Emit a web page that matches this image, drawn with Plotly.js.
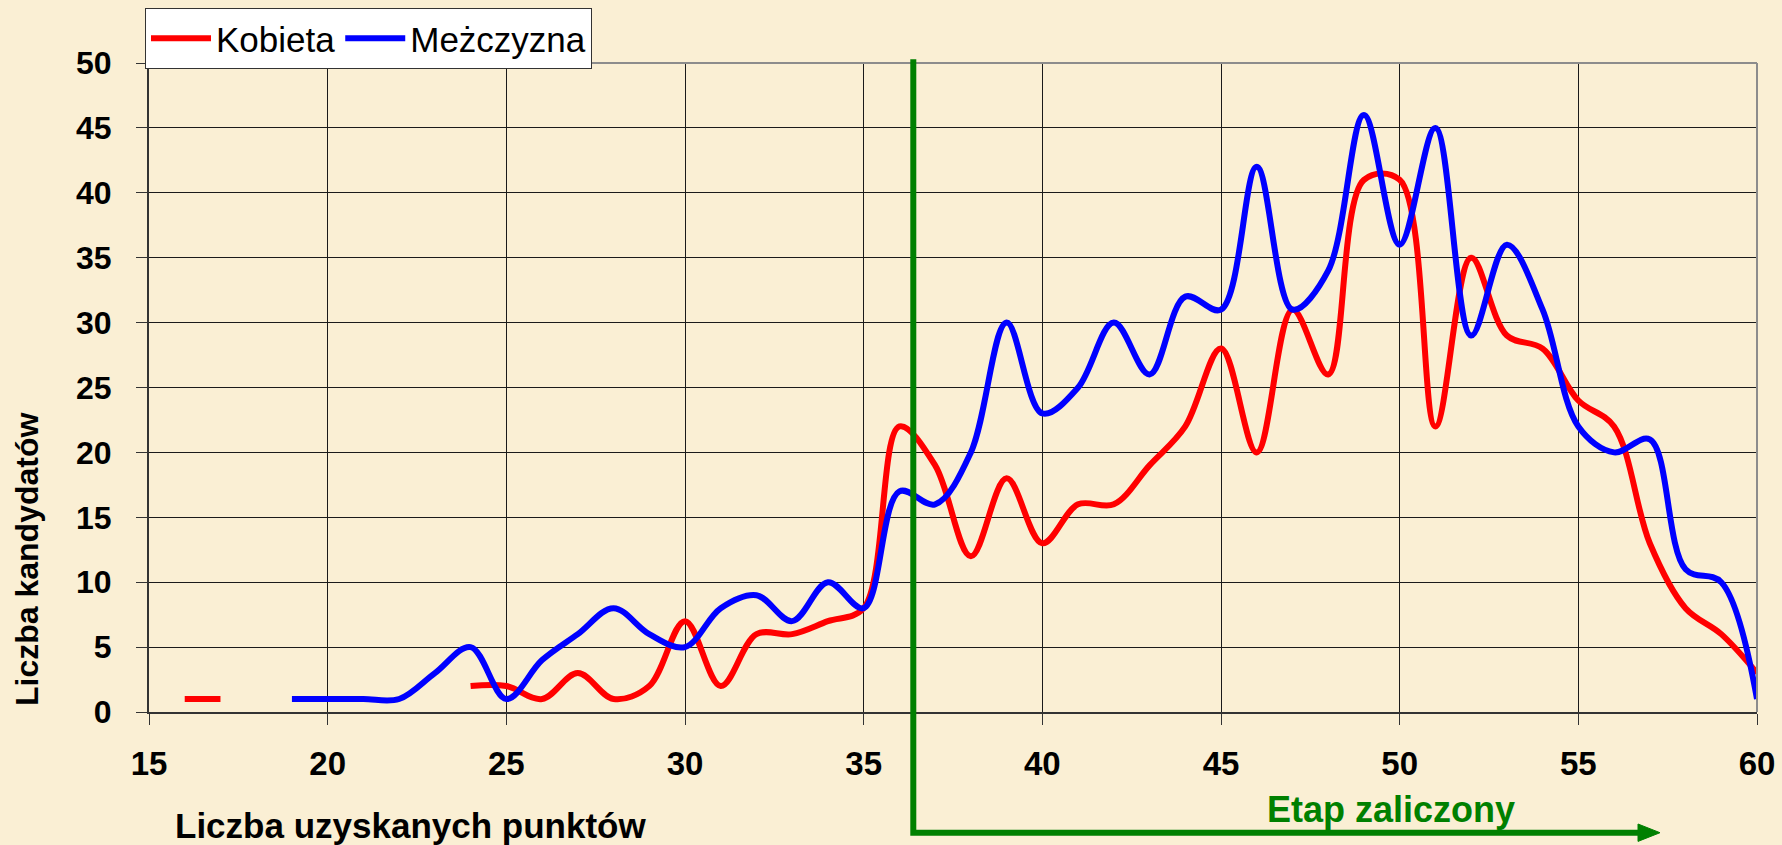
<!DOCTYPE html>
<html>
<head>
<meta charset="utf-8">
<script src="https://cdn.plot.ly/plotly-3.0.1.min.js"></script>
<style>
  html, body { margin: 0; padding: 0; background: #FAEFD4; }
  #chart { width: 1782px; height: 845px; }
</style>
</head>
<body>
<div id="chart"></div>
<script>
// ---- data ----
const punkty = [15,16,17,18,19,20,21,22,23,24,25,26,27,28,29,30,31,32,33,34,35,36,37,
                38,39,40,41,42,43,44,45,46,47,48,49,50,51,52,53,54,55,56,57,58,59,60];
const kobieta = [null,1,1,null,null,null,null,null,null,2,2,1,3,1,2,7,2,6,6,7,8,22,19,
                 12,18,13,16,16,19,22,28,20,31,26,41,41,22,35,29,28,24,22,13,8,6,3];
const mezczyzna = [null,null,null,null,1,1,1,1,3,5,1,4,6,8,6,5,8,9,7,10,8,17,16,
                   20,30,23,25,30,26,32,31,42,31,34,46,36,45,29,36,31,22,20,21,11,10,1];
const seriesNames = ['Kobieta', 'Meżczyzna'];
const xTitle = 'Liczba uzyskanych punktów';
const yTitle = 'Liczba kandydatów';
const passLabel = 'Etap zaliczony';

// ---- layout helpers (pixel -> paper) ----
const W = 1782, H = 845;
const M = {l: 149, r: 25, t: 63, b: 133, autoexpand: false};
const PW = W - M.l - M.r, PH = H - M.t - M.b;
const px = v => (v - M.l) / PW;
const py = v => (H - M.b - v) / PH;

const FONT = 'Arial, "Liberation Sans", sans-serif';
const GREEN = '#008000';
const BG = '#FAEFD4';

const traces = [
  {x: punkty, y: kobieta, name: seriesNames[0], type: 'scatter', mode: 'lines',
   line: {color: '#FF0000', width: 6, shape: 'spline', smoothing: 1}, connectgaps: false},
  {x: punkty, y: mezczyzna, name: seriesNames[1], type: 'scatter', mode: 'lines',
   line: {color: '#0000FF', width: 6, shape: 'spline', smoothing: 1}, connectgaps: false}
];

const layout = {
  width: W, height: H,
  margin: M,
  paper_bgcolor: BG,
  plot_bgcolor: BG,
  showlegend: true,
  legend: {
    orientation: 'h', x: px(145), xanchor: 'left', y: py(8), yanchor: 'top',
    bgcolor: '#FFFFFF', bordercolor: '#333333', borderwidth: 1,
    font: {family: FONT, size: 35, color: '#000'},
    itemwidth: 60, traceorder: 'normal'
  },
  xaxis: {
    range: [15, 60], dtick: 5, tick0: 15,
    showgrid: true, gridcolor: '#1a1a1a', gridwidth: 1,
    showline: true, linecolor: '#333333', linewidth: 2,
    ticks: 'outside', ticklen: 11, tickwidth: 1, tickcolor: '#333',
    ticklabelstandoff: 10,
    zeroline: false, fixedrange: true,
    tickfont: {family: FONT, size: 33, color: '#000', weight: 'bold'}
  },
  yaxis: {
    range: [0, 50], dtick: 5, tick0: 0,
    showgrid: true, gridcolor: '#1a1a1a', gridwidth: 1,
    showline: true, linecolor: '#333333', linewidth: 2,
    ticks: 'outside', ticklen: 11, tickwidth: 1, tickcolor: '#333',
    ticklabelstandoff: 18,
    zeroline: false, fixedrange: true,
    tickfont: {family: FONT, size: 32, color: '#000', weight: 'bold'}
  },
  shapes: [
    // grey plot-area border (top / right)
    {type: 'line', xref: 'paper', yref: 'paper', x0: 0, x1: 1, y0: 1, y1: 1,
     line: {color: '#8c8c8c', width: 2}, layer: 'above'},
    {type: 'line', xref: 'paper', yref: 'paper', x0: 1, x1: 1, y0: 0, y1: 1,
     line: {color: '#8c8c8c', width: 2}, layer: 'above'},
    // green "passed" bracket
    {type: 'path', xref: 'paper', yref: 'paper',
     path: `M ${px(913.3)} ${py(59.3)} L ${px(913.3)} ${py(832.7)} L ${px(1642)} ${py(832.7)}`,
     line: {color: GREEN, width: 6}, layer: 'above'},
    {type: 'path', xref: 'paper', yref: 'paper',
     path: `M ${px(1638)} ${py(824)} L ${px(1660)} ${py(832.7)} L ${px(1638)} ${py(841.4)} Z`,
     fillcolor: GREEN, line: {color: GREEN, width: 1}, layer: 'above'}
  ],
  annotations: [
    {text: xTitle, xref: 'paper', yref: 'paper', x: px(410), y: py(825.5),
     xanchor: 'center', yanchor: 'middle', showarrow: false,
     font: {family: FONT, size: 35, color: '#000', weight: 'bold'}},
    {text: yTitle, xref: 'paper', yref: 'paper', x: px(27), y: py(559),
     xanchor: 'center', yanchor: 'middle', showarrow: false, textangle: -90,
     font: {family: FONT, size: 32, color: '#000', weight: 'bold'}},
    {text: passLabel, xref: 'paper', yref: 'paper', x: px(1391), y: py(809),
     xanchor: 'center', yanchor: 'middle', showarrow: false,
     font: {family: FONT, size: 36, color: GREEN, weight: 'bold'}}
  ]
};

Plotly.newPlot('chart', traces, layout, {staticPlot: true, displayModeBar: false});
</script>
</body>
</html>
